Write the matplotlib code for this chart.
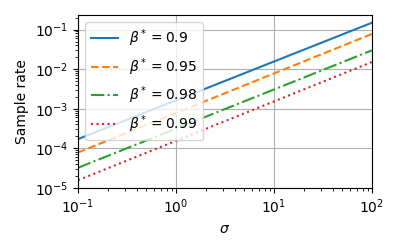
import numpy as np
import matplotlib
matplotlib.use("Agg")
import matplotlib.pyplot as plt

# sigma endpoints and sample rates
sigma = [0.1, 100]
labels = [r"$\beta^* = 0.9$", r"$\beta^* = 0.95$", r"$\beta^* = 0.98$", r"$\beta^* = 0.99$"]
rate_090 = [1.7e-4, 0.15]
rate_095 = [7.8e-5, 0.078]
rate_098 = [3.2e-5, 0.030]
rate_099 = [1.55e-5, 0.0152]
styles = ["-", "--", "-.", ":"]

fig = plt.figure(figsize=(4, 2.5), dpi=100)
ax = fig.add_axes([0.195, 0.249, 0.735, 0.691])
for rate, lab, ls in zip([rate_090, rate_095, rate_098, rate_099], labels, styles):
    ax.plot(sigma, rate, ls, label=lab)
ax.set_xscale("log")
ax.set_yscale("log")
ax.set_xlim(0.1, 100)
ax.set_ylim(1e-5, 0.235)
ax.grid(True)
ax.set_xlabel(r"$\sigma$")
ax.set_ylabel("Sample rate")
ax.legend(loc="upper left")
fig.savefig("out.png")
